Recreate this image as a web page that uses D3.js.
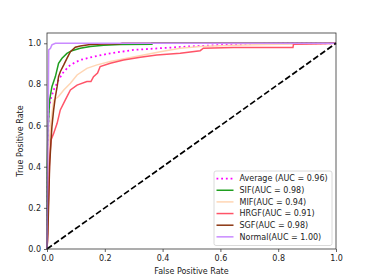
<!DOCTYPE html>
<html>
<head>
<meta charset="utf-8">
<script src="https://cdn.jsdelivr.net/npm/d3@7"></script>
<style>
  body { margin: 0; background: #fff; }
  svg { display: block; font-family: "DejaVu Sans", sans-serif; }
</style>
</head>
<body>
<div class="chart-roc"></div>
<script>
// ROC curves, [fpr, tpr] pairs
const average = [[0, 0], [0.002, 0.3], [0.004, 0.55], [0.006, 0.676], [0.012, 0.725], [0.023, 0.773],
  [0.04, 0.822], [0.058, 0.862], [0.081, 0.895], [0.115, 0.919], [0.161, 0.935], [0.219, 0.951],
  [0.3, 0.968], [0.392, 0.976], [0.484, 0.984], [0.576, 0.99], [0.668, 0.995], [0.76, 0.998], [0.85, 1], [1, 1]];

const sif = [[0, 0], [0.001, 0.4], [0.003, 0.562], [0.009, 0.724], [0.017, 0.789], [0.029, 0.838],
  [0.04, 0.903], [0.052, 0.927], [0.069, 0.951], [0.086, 0.964], [0.115, 0.976], [0.15, 0.984],
  [0.196, 0.99], [0.253, 0.994], [0.363, 0.995], [0.363, 1], [1, 1]];

const mif = [[0, 0], [0.002, 0.157], [0.003, 0.319], [0.006, 0.481], [0.012, 0.595], [0.023, 0.724],
  [0.04, 0.741], [0.058, 0.773], [0.081, 0.806], [0.104, 0.846], [0.138, 0.878], [0.173, 0.895],
  [0.219, 0.911], [0.276, 0.927], [0.334, 0.943], [0.392, 0.959], [0.461, 0.976], [0.53, 0.984],
  [0.645, 0.99], [0.76, 0.994], [0.876, 0.997], [1, 1]];

const hrgf = [[0, 0], [0.002, 0.044], [0.003, 0.157], [0.006, 0.27], [0.009, 0.433], [0.014, 0.53],
  [0.023, 0.562], [0.035, 0.611], [0.046, 0.676], [0.063, 0.724], [0.081, 0.773], [0.104, 0.797],
  [0.138, 0.814], [0.152, 0.814], [0.161, 0.838], [0.175, 0.855], [0.184, 0.887], [0.219, 0.903],
  [0.265, 0.919], [0.323, 0.932], [0.38, 0.943], [0.461, 0.951], [0.53, 0.964], [0.541, 0.976],
  [0.645, 0.979], [0.851, 0.979], [0.853, 0.995], [0.95, 0.998], [1, 1]];

const sgf = [[0, 0], [0.003, 0.076], [0.006, 0.238], [0.009, 0.4], [0.014, 0.53], [0.017, 0.595],
  [0.023, 0.676], [0.029, 0.74], [0.035, 0.789], [0.04, 0.838], [0.046, 0.862], [0.058, 0.895],
  [0.069, 0.927], [0.081, 0.959], [0.098, 0.981], [0.115, 0.987], [0.15, 0.994], [0.196, 0.997],
  [0.253, 0.998], [0.26, 1], [1, 1]];

const normal = [[0, 0], [0.006, 0.968], [0.012, 0.976], [0.017, 0.992], [0.029, 1], [1, 1]];

const labels = ['Average (AUC = 0.96)', 'SIF(AUC = 0.98)', 'MIF(AUC = 0.94)',
  'HRGF(AUC = 0.91)', 'SGF(AUC = 0.98)', 'Normal(AUC = 1.00)'];
const curves = [average, sif, mif, hrgf, sgf, normal];
const colors = ['#ff00ff', '#1f9e1f', '#ffd6b4', '#ff5468', '#8b3510', '#c98aff'];
const ticks = [0, 0.2, 0.4, 0.6, 0.8, 1.0];

const margin = { top: 33, right: 38, bottom: 31, left: 47 };
const width = 374 - margin.left - margin.right,
  height = 280 - margin.top - margin.bottom;

const svg = d3.select('.chart-roc').append('svg')
  .attr('width', 374)
  .attr('height', 280)
  .append('g')
  .attr('transform', 'translate(' + margin.left + ',' + margin.top + ')');

const x = d3.scaleLinear().domain([0, 1]).range([0, width]);
const y = d3.scaleLinear().domain([0, 1.05]).range([height, 0]);

const line = d3.line()
  .x((d) => x(d[0]))
  .y((d) => y(d[1]));

// curves
curves.forEach((c, i) => {
  svg.append('path')
    .datum(c)
    .attr('fill', 'none')
    .attr('stroke', colors[i])
    .attr('stroke-width', i === 0 ? 1.8 : 1.5)
    .attr('stroke-dasharray', i === 0 ? '1.8,2.9' : null)
    .attr('d', line);
});

// chance line
svg.append('path')
  .datum([[0, 0], [1, 1]])
  .attr('fill', 'none')
  .attr('stroke', '#000')
  .attr('stroke-width', 1.7)
  .attr('stroke-dasharray', '6,2.6')
  .attr('d', line);

// axes
const xAxis = d3.axisBottom(x).tickValues(ticks).tickFormat(d3.format('.1f')).tickSize(3);
const yAxis = d3.axisLeft(y).tickValues(ticks).tickFormat(d3.format('.1f')).tickSize(3);

svg.append('g')
  .attr('transform', 'translate(0,' + height + ')')
  .call(xAxis)
  .call((g) => g.select('.domain').remove());
svg.append('g')
  .call(yAxis)
  .call((g) => g.select('.domain').remove());

svg.selectAll('.tick text')
  .attr('font-size', 8)
  .attr('fill', '#222')
  .attr('font-family', '"DejaVu Sans", sans-serif');
svg.selectAll('.tick line').attr('stroke', '#222').attr('stroke-width', 0.7);

// frame
svg.append('rect')
  .attr('width', width)
  .attr('height', height)
  .attr('fill', 'none')
  .attr('stroke', '#333')
  .attr('stroke-width', 0.8);

// axis labels
svg.append('text')
  .attr('x', width / 2)
  .attr('y', height + 25)
  .attr('text-anchor', 'middle')
  .attr('font-size', 8)
  .attr('fill', '#222')
  .text('False Positive Rate');
svg.append('text')
  .attr('transform', 'translate(' + (-24) + ',' + height / 2 + ') rotate(-90)')
  .attr('text-anchor', 'middle')
  .attr('font-size', 8)
  .attr('fill', '#222')
  .text('True Positive Rate');

// legend
const legend = svg.append('g')
  .attr('transform', 'translate(' + (width - 122) + ',' + (height - 78) + ')');
legend.append('rect')
  .attr('width', 118)
  .attr('height', 74.5)
  .attr('rx', 2)
  .attr('fill', '#fff')
  .attr('fill-opacity', 0.8)
  .attr('stroke', '#d0d0d0')
  .attr('stroke-width', 0.8);

const items = legend.selectAll('.item')
  .data(labels)
  .enter()
  .append('g')
  .attr('transform', (d, i) => 'translate(0,' + (7.6 + i * 11.65) + ')');
items.append('line')
  .attr('x1', 2.5)
  .attr('x2', 19.5)
  .attr('stroke', (d, i) => colors[i])
  .attr('stroke-width', (d, i) => (i === 0 ? 1.8 : 1.5))
  .attr('stroke-dasharray', (d, i) => (i === 0 ? '1.8,2.9' : null));
items.append('text')
  .attr('x', 25.5)
  .attr('dy', '0.35em')
  .attr('font-size', 8)
  .attr('fill', '#222')
  .text((d) => d);
</script>
</body>
</html>
